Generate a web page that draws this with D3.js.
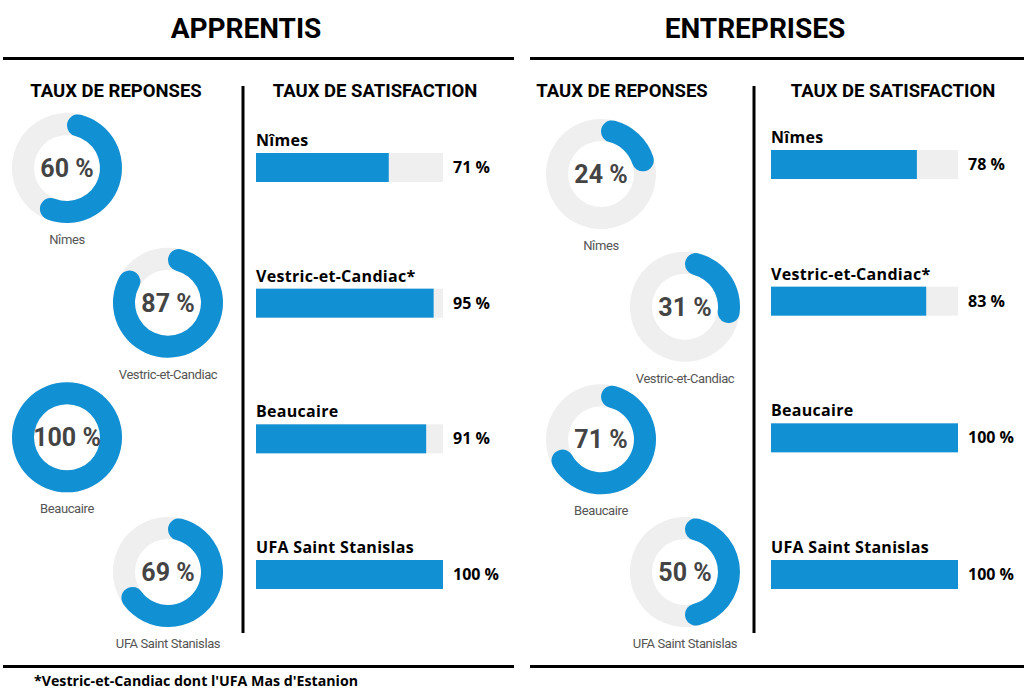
<!DOCTYPE html>
<html>
<head>
<meta charset="utf-8">
<script src="https://cdn.jsdelivr.net/npm/d3@7"></script>
<style>
	body { margin: 0; background: #ffffff; }
	svg { display: block; }
</style>
</head>
<body>
<div id="chart"></div>
<script>
	const cities = ['Nîmes', 'Vestric-et-Candiac', 'Beaucaire', 'UFA Saint Stanislas'];
	const barLabels = ['Nîmes', 'Vestric-et-Candiac*', 'Beaucaire', 'UFA Saint Stanislas'];
	const apprentisReponses = [60, 87, 100, 69];
	const apprentisSatisfaction = [71, 95, 91, 100];
	const entreprisesReponses = [24, 31, 71, 50];
	const entreprisesSatisfaction = [78, 83, 100, 100];
	const footnote = "*Vestric-et-Candiac dont l'UFA Mas d'Estanion";

	const blue = '#1190d4';
	const track = '#efefef';

	// layout of the two halves
	const panels = [
		{ title: 'APPRENTIS', reponses: apprentisReponses, satisfaction: apprentisSatisfaction,
		  x0: 3, x1: 514, titleX: 246, headLeft: 116, headRight: 375, divider: 243,
		  donutX: [67, 168], donutY: [168, 572], barX: 256, barY: [153, 560] },
		{ title: 'ENTREPRISES', reponses: entreprisesReponses, satisfaction: entreprisesSatisfaction,
		  x0: 530, x1: 1024, titleX: 755, headLeft: 622, headRight: 893, divider: 754,
		  donutX: [601, 685], donutY: [174, 572], barX: 771, barY: [150, 560] }
	];

	const svg = d3.select('#chart')
		.append('svg')
		.attr('width', 1024)
		.attr('height', 700);

	const outerR = 55;
	const innerR = 33;
	const barW = 187;
	const barH = 29;

	const angle = d3.scaleLinear().domain([0, 100]).range([0, 2 * Math.PI]);
	const ringArc = d3.arc().innerRadius(innerR).outerRadius(outerR);
	const valueArc = d3.arc().innerRadius(innerR).outerRadius(outerR).cornerRadius((outerR - innerR) / 2);

	panels.forEach(function (p) {
		let g = svg.append('g');

		g.append('text')
			.attr('x', p.titleX)
			.attr('y', 38)
			.attr('text-anchor', 'middle')
			.attr('font-family', 'Roboto')
			.attr('font-weight', 700)
			.attr('font-size', 28)
			.attr('fill', '#000')
			.text(p.title);

		[58.5, 666.5].forEach(function (y) {
			g.append('line')
				.attr('x1', p.x0)
				.attr('x2', p.x1)
				.attr('y1', y)
				.attr('y2', y)
				.attr('stroke', '#000')
				.attr('stroke-width', 3);
		});

		g.append('line')
			.attr('x1', p.divider)
			.attr('x2', p.divider)
			.attr('y1', 86)
			.attr('y2', 633)
			.attr('stroke', '#000')
			.attr('stroke-width', 3);

		[[p.headLeft, 'TAUX DE REPONSES'], [p.headRight, 'TAUX DE SATISFACTION']].forEach(function (h) {
			g.append('text')
				.attr('x', h[0])
				.attr('y', 97)
				.attr('text-anchor', 'middle')
				.attr('font-family', 'Roboto')
				.attr('font-weight', 700)
				.attr('font-size', 18.5)
				.attr('fill', '#000')
				.text(h[1]);
		});

		// donuts, zigzag between two columns
		let rowY = d3.scalePoint().domain(cities).range(p.donutY);
		let donuts = g.selectAll('.donut')
			.data(cities)
			.enter()
			.append('g')
			.attr('class', 'donut')
			.attr('transform', function (d, i) {
				return 'translate(' + p.donutX[i % 2] + ',' + rowY(d) + ')';
			});

		donuts.append('path')
			.attr('d', ringArc({ startAngle: 0, endAngle: 2 * Math.PI }))
			.attr('fill', track);

		donuts.append('path')
			.attr('d', function (d, i) {
				return valueArc({ startAngle: 0, endAngle: angle(p.reponses[i]) });
			})
			.attr('fill', blue);

		donuts.append('text')
			.attr('y', 9)
			.attr('text-anchor', 'middle')
			.attr('font-family', 'Roboto')
			.attr('font-weight', 700)
			.attr('font-size', 25)
			.attr('fill', '#444')
			.text(function (d, i) { return p.reponses[i] + ' %'; });

		donuts.append('text')
			.attr('y', 76)
			.attr('text-anchor', 'middle')
			.attr('font-family', 'Roboto')
			.attr('font-size', 13)
			.attr('letter-spacing', -0.4)
			.attr('fill', '#555')
			.text(function (d) { return d; });

		// satisfaction bars
		let barY = d3.scalePoint().domain(cities).range(p.barY);
		let x = d3.scaleLinear().domain([0, 100]).range([0, barW]);
		let bars = g.selectAll('.bar')
			.data(cities)
			.enter()
			.append('g')
			.attr('class', 'bar')
			.attr('transform', function (d) {
				return 'translate(' + p.barX + ',' + barY(d) + ')';
			});

		bars.append('rect')
			.attr('width', x(100))
			.attr('height', barH)
			.attr('fill', track);

		bars.append('rect')
			.attr('width', function (d, i) { return x(p.satisfaction[i]); })
			.attr('height', barH)
			.attr('fill', blue);

		bars.append('text')
			.attr('y', -7)
			.attr('font-family', 'Open Sans')
			.attr('font-weight', 700)
			.attr('font-size', 16)
			.attr('letter-spacing', 0.3)
			.attr('fill', '#000')
			.text(function (d, i) { return barLabels[i]; });

		bars.append('text')
			.attr('x', x(100) + 10)
			.attr('y', 20)
			.attr('font-family', 'Open Sans')
			.attr('font-weight', 700)
			.attr('font-size', 16)
			.attr('fill', '#000')
			.text(function (d, i) { return p.satisfaction[i] + ' %'; });
	});

	svg.append('text')
		.attr('x', 34)
		.attr('y', 686)
		.attr('font-family', 'Open Sans')
		.attr('font-weight', 700)
		.attr('font-size', 14.2)
		.attr('fill', '#000')
		.text(footnote);
</script>
</body>
</html>
